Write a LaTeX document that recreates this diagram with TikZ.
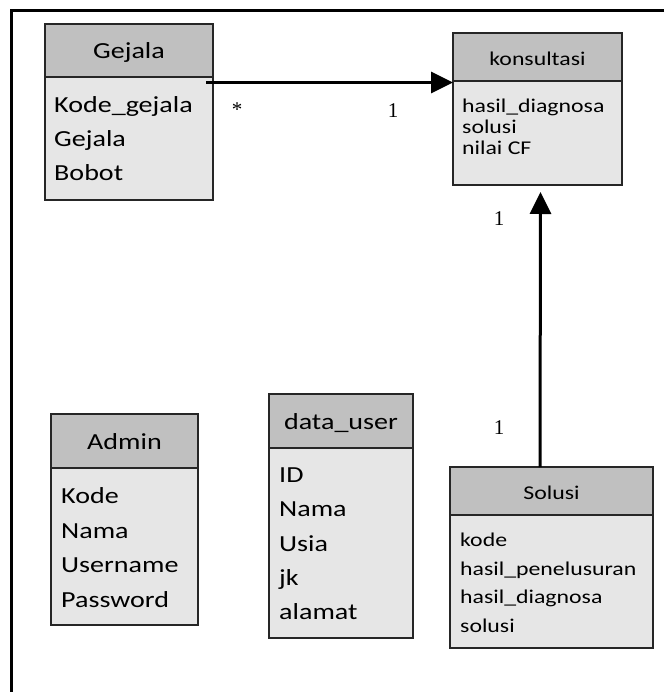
\documentclass[tikz,border=0pt]{standalone}
\usepackage{fontspec}
\setmainfont{Carlito}
\newfontfamily\mulfont{Liberation Serif}
\usetikzlibrary{positioning,arrows.meta}
\definecolor{hdrgray}{RGB}{192,192,192}
\definecolor{bodygray}{RGB}{230,230,230}
\newcommand{\wide}[1]{\scalebox{1.22}[1]{#1}}

\begin{document}
\begin{tikzpicture}[x=1pt,y=-1pt,
  hdr/.style={draw=black!85, fill=hdrgray, line width=1.2pt, inner sep=0pt, outer sep=0pt, text height=17pt, text depth=0pt},
  body/.style={draw=black!85, fill=bodygray, line width=1.2pt, inner sep=0pt, outer sep=0pt},
  big/.style={font=\fontsize{23}{28}\selectfont},
  small/.style={font=\fontsize{19.5}{24}\selectfont},
  attr/.style={anchor=base west, inner sep=0pt},
  mult/.style={font=\mulfont\fontsize{21}{24}\selectfont, inner sep=0pt},
  conn/.style={line width=3pt, -{Triangle[length=22pt,width=21pt]}}]
\useasboundingbox (0,0) rectangle (664,692);
\draw[line width=3pt] (664,11) -- (11,11) -- (11,692);

% Gejala
\node[hdr, big, minimum width=168pt, minimum height=53pt] (gejala) at (129,50.5) {\wide{Gejala}};
\node[body, minimum width=168pt, minimum height=123pt, below=0pt of gejala] (gejalab) {};
\node[attr, big] (gejala1) at (54,113) {\wide{Kode\_gejala}};
\node[attr, big] (gejala2) at (54,147) {\wide{Gejala}};
\node[attr, big] (gejala3) at (54,181) {\wide{Bobot}};

% konsultasi
\node[hdr, small, minimum width=169pt, minimum height=48pt] (konsultasi) at (537.5,57) {\wide{konsultasi}};
\node[body, minimum width=169pt, minimum height=104pt, below=0pt of konsultasi] (konsultasib) {};
\node[attr, small] (konsultasi1) at (462,113) {\wide{hasil\_diagnosa}};
\node[attr, small] (konsultasi2) at (462,134) {\wide{solusi}};
\node[attr, small] (konsultasi3) at (462,155) {\wide{nilai CF}};

% Admin
\node[hdr, big, minimum width=147pt, minimum height=54pt] (admin) at (124.5,441) {\wide{Admin}};
\node[body, minimum width=147pt, minimum height=157pt, below=0pt of admin] (adminb) {};
\node[attr, big] (admin1) at (61,503) {\wide{Kode}};
\node[attr, big] (admin2) at (61,538) {\wide{Nama}};
\node[attr, big] (admin3) at (61,572) {\wide{Username}};
\node[attr, big] (admin4) at (61,607) {\wide{Password}};

% data_user
\node[hdr, big, minimum width=144pt, minimum height=54pt] (datauser) at (341,421) {\wide{data\_user}};
\node[body, minimum width=144pt, minimum height=190pt, below=0pt of datauser] (datauserb) {};
\node[attr, big] (datauser1) at (279,482) {\wide{ID}};
\node[attr, big] (datauser2) at (279,516) {\wide{Nama}};
\node[attr, big] (datauser3) at (279,551) {\wide{Usia}};
\node[attr, big] (datauser4) at (279,585) {\wide{jk}};
\node[attr, big] (datauser5) at (279,619) {\wide{alamat}};

% Solusi
\node[hdr, small, minimum width=203pt, minimum height=48pt] (solusi) at (551.5,491) {\wide{Solusi}};
\node[body, minimum width=203pt, minimum height=133pt, below=0pt of solusi] (solusib) {};
\node[attr, small] (solusi1) at (460,546) {\wide{kode}};
\node[attr, small] (solusi2) at (460,575) {\wide{hasil\_penelusuran}};
\node[attr, small] (solusi3) at (460,603) {\wide{hasil\_diagnosa}};
\node[attr, small] (solusi4) at (460,632) {\wide{solusi}};

% multiplicities
\node[mult] (mgejala) at (237,110) {*};
\node[mult] (mkonsultasi) at (393,110.5) {1};
\node[mult] (mkonsultasib) at (499,219) {1};
\node[mult] (msolusi) at (499,428) {1};

\draw[conn] ([xshift=-7pt,yshift=-5.5pt]gejalab.north east) -- ([yshift=-1.5pt]konsultasi.south west);
\draw[conn] ([xshift=-11.5pt]solusi.north) -- ([xshift=3pt,yshift=-7pt]konsultasib.south);
\end{tikzpicture}
\end{document}
